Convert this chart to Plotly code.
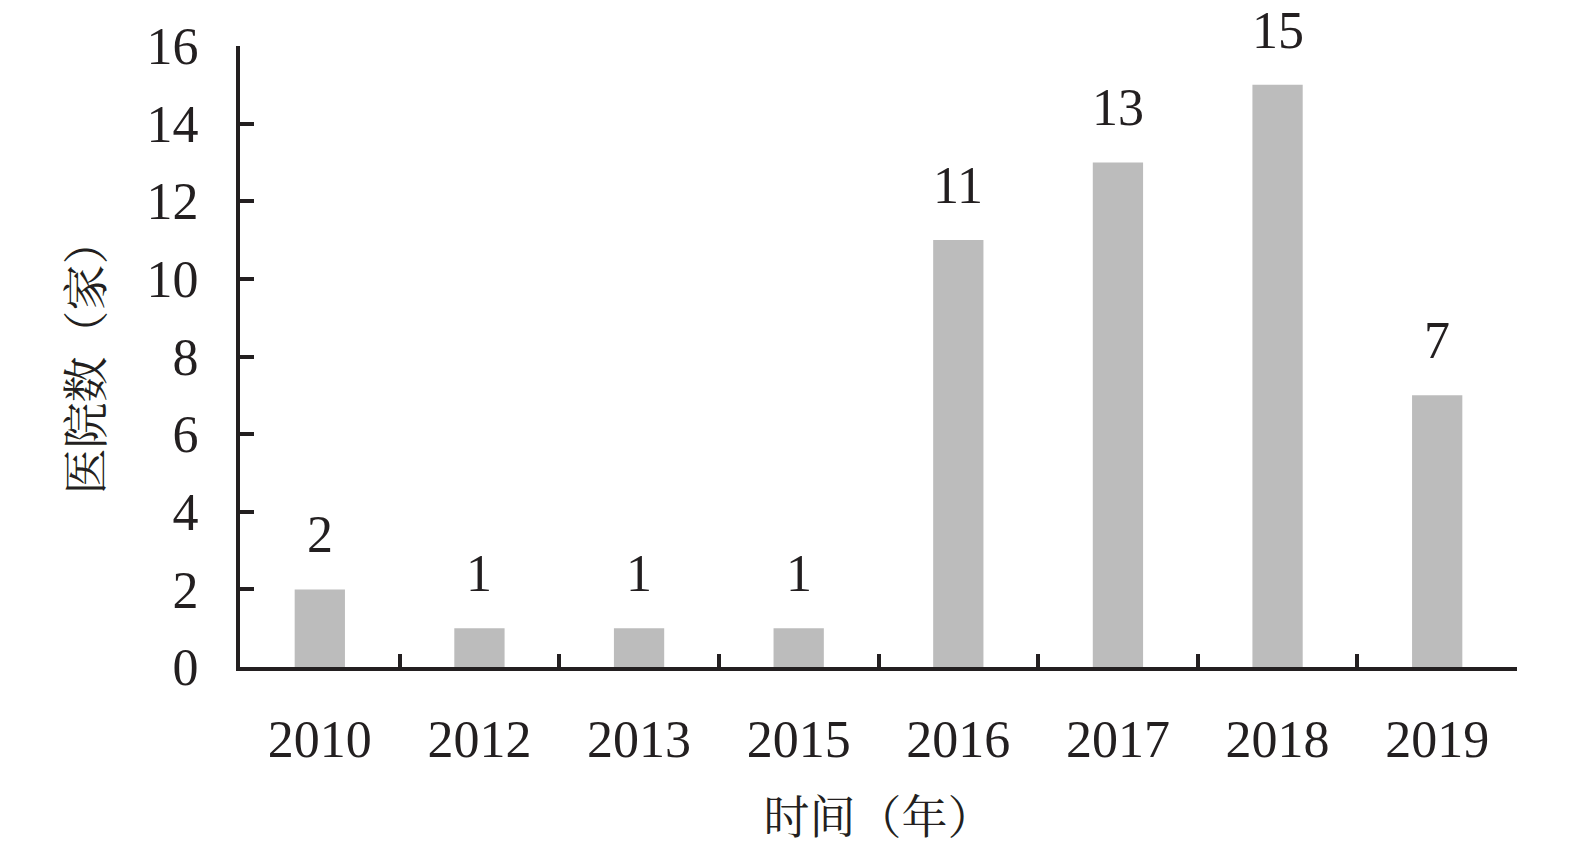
import plotly.graph_objects as go

years = ["2010", "2012", "2013", "2015", "2016", "2017", "2018", "2019"]
counts = [2, 1, 1, 1, 11, 13, 15, 7]
y_ticks = [0, 2, 4, 6, 8, 10, 12, 14, 16]

INK = "#231f20"
FONT = "Liberation Serif, Noto Serif CJK SC, Noto Sans CJK SC, serif"
NUM = 52

fig = go.Figure()
fig.add_trace(go.Bar(
    x=years, y=counts, width=0.315,
    marker=dict(color="#bcbcbc", line=dict(width=0)),
    showlegend=False, hoverinfo="skip",
))

for i, v in enumerate(counts):
    fig.add_annotation(
        x=i, y=v, text=str(v), showarrow=False,
        xanchor="center", yanchor="bottom", yshift=24,
        font=dict(family=FONT, size=NUM, color=INK),
    )

fig.update_layout(
    width=1575, height=850,
    margin=dict(l=232, r=66, t=38, b=191),
    paper_bgcolor="white", plot_bgcolor="white",
    font=dict(family=FONT, size=46, color=INK),
)

fig.update_xaxes(
    type="category", categoryorder="array", categoryarray=years,
    range=[-0.5, len(years) - 0.5], automargin=False,
    showline=True, linecolor=INK, linewidth=4,
    ticks="inside", tickson="boundaries", ticklen=13, tickwidth=4, tickcolor=INK,
    showgrid=False, zeroline=False,
    ticklabelstandoff=24, tickangle=0,
    tickfont=dict(family=FONT, size=NUM, color=INK),
    title=dict(text="时间（年）", font=dict(family=FONT, size=46, color=INK), standoff=34),
)

fig.update_yaxes(
    range=[0, 16], tickvals=y_ticks, ticktext=[str(t) for t in y_ticks],
    automargin=False,
    showline=True, linecolor=INK, linewidth=4,
    ticks="inside", ticklen=14, tickwidth=4, tickcolor=INK,
    showgrid=False, zeroline=False,
    ticklabelstandoff=27,
    tickfont=dict(family=FONT, size=NUM, color=INK),
    title=dict(text="医院数（家）", font=dict(family=FONT, size=46, color=INK), standoff=30),
)

fig.write_html("out.html")
